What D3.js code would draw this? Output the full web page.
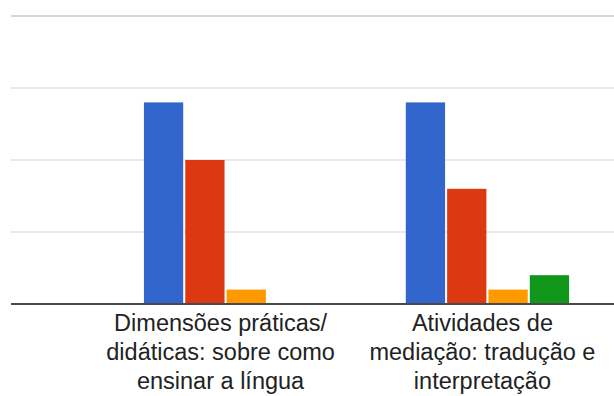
<!DOCTYPE html>
<html>
<head>
<meta charset="utf-8">
<script src="https://cdn.jsdelivr.net/npm/d3@7"></script>
<style>
  body { margin: 0; background: #fff; }
  svg { display: block; }
</style>
</head>
<body>
<svg id="chart"></svg>
<script>
// categories (wrapped labels) and series values
var categories = ["Dimensões práticas/ didáticas", "Atividades de mediação"]
var categoryLines = [
    ["Dimensões práticas/", "didáticas: sobre como", "ensinar a língua"],
    ["Atividades de", "mediação: tradução e", "interpretação"]
]
var seriesNames = ["s1", "s2", "s3", "s4"]
var seriesColors = ["#3366cc", "#dc3912", "#ff9900", "#109618"]
var values1 = [28, 20, 2, 0]
var values2 = [28, 16, 2, 4]
var yTicks = [0, 10, 20, 30, 40]

var dimensions = {
    width: 614,
    height: 396,
    margin: { top: 16, bottom: 92, left: 11, right: 0 }
}
dimensions.boundedHeight = dimensions.height - dimensions.margin.top - dimensions.margin.bottom

var data = [values1, values2]

var svg = d3.select("#chart")
    .attr("width", dimensions.width)
    .attr("height", dimensions.height)

var yScale = d3.scaleLinear()
    .domain([0, 40])
    .range([dimensions.margin.top + dimensions.boundedHeight, dimensions.margin.top])

// chart is cropped on the right, so the band range runs past the window
var x0 = d3.scaleBand()
    .domain(categories)
    .range([13, 700])
    .paddingInner(0.3765)
    .paddingOuter(0.5)

var x1 = d3.scaleBand()
    .domain(seriesNames)
    .range([0, x0.bandwidth()])
    .paddingInner(0.05)

// gridlines
svg.append("g")
    .selectAll("line")
    .data(yTicks.filter(d => d > 0))
    .enter()
    .append("line")
    .attr("x1", dimensions.margin.left)
    .attr("x2", dimensions.width)
    .attr("y1", d => yScale(d))
    .attr("y2", d => yScale(d))
    .attr("stroke", d => d == 40 ? "#d6d6d6" : "#e2e2e2")
    .attr("stroke-width", d => d == 40 ? 2 : 1.5)

// bars
var groups = svg.append("g")
    .selectAll("g")
    .data(data)
    .enter()
    .append("g")
    .attr("transform", (d, i) => "translate(" + x0(categories[i]) + ",0)")

groups.selectAll("rect")
    .data(d => d.map((v, j) => ({ key: seriesNames[j], value: v, color: seriesColors[j] })))
    .enter()
    .append("rect")
    .filter(d => d.value > 0)
    .attr("x", d => x1(d.key))
    .attr("y", d => yScale(d.value))
    .attr("width", x1.bandwidth())
    .attr("height", d => yScale(0) - yScale(d.value))
    .attr("fill", d => d.color)

// baseline
svg.append("line")
    .attr("x1", dimensions.margin.left)
    .attr("x2", dimensions.width)
    .attr("y1", yScale(0))
    .attr("y2", yScale(0))
    .attr("stroke", "#4a4a4a")
    .attr("stroke-width", 2)

// category labels
var labels = svg.append("g")
    .selectAll("text")
    .data(categories)
    .enter()
    .append("text")
    .attr("x", d => x0(d) + x0.bandwidth() / 2 - 5)
    .attr("y", yScale(0) + 27)
    .attr("text-anchor", "middle")
    .style("font-family", "Arial, 'Liberation Sans', sans-serif")
    .style("font-size", "23.5px")
    .attr("fill", "#222")

labels.each(function (d, i) {
    var t = d3.select(this)
    var x = x0(d) + x0.bandwidth() / 2 - 5
    categoryLines[i].forEach(function (line, k) {
        t.append("tspan")
            .attr("x", x)
            .attr("dy", k == 0 ? 0 : 29)
            .text(line)
    })
})
</script>
</body>
</html>
